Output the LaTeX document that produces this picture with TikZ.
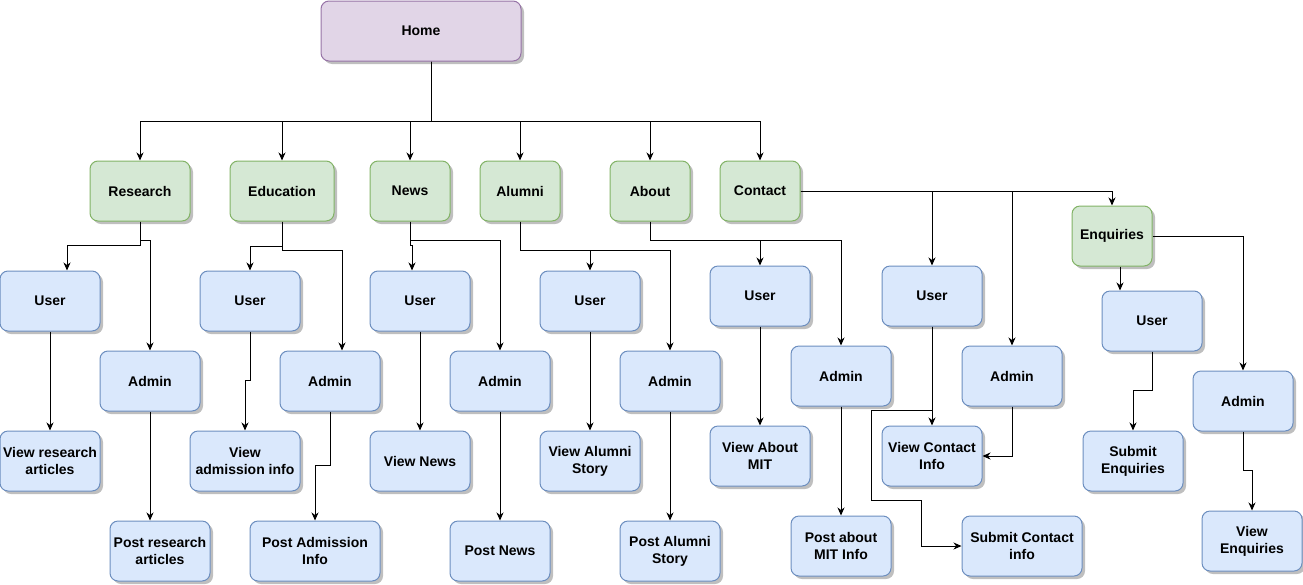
\documentclass[tikz,border=0pt]{standalone}
\usepackage{fontspec}
\setmainfont{Liberation Sans}
\usetikzlibrary{arrows.meta,positioning,shadows}
\definecolor{homefill}{HTML}{E1D5E7}
\definecolor{homedraw}{HTML}{9673A6}
\definecolor{pagefill}{HTML}{D5E8D4}
\definecolor{pagedraw}{HTML}{82B366}
\definecolor{rolefill}{HTML}{DAE8FC}
\definecolor{roledraw}{HTML}{6C8EBF}
\tikzset{
  basebox/.style={rectangle,rounded corners=8pt,line width=1pt,align=center,inner sep=2pt,minimum height=60pt,font=\fontsize{14}{17}\selectfont\bfseries,drop shadow={shadow xshift=3pt,shadow yshift=-3pt,fill=black,opacity=0.25}},
  homebox/.style={basebox,draw=homedraw,fill=homefill,minimum width=200pt},
  pagebox/.style={basebox,draw=pagedraw,fill=pagefill,minimum width=80pt},
  rolebox/.style={basebox,draw=roledraw,fill=rolefill,minimum width=100pt},
  link/.style={-{Stealth[length=8pt,width=7pt,inset=2.5pt]},line width=1pt,draw=black}
}

\begin{document}
\begin{tikzpicture}[x=1pt,y=-1pt]
  \useasboundingbox (0,0) rectangle (1303,584);

  \node[homebox] (home) at (421,31) {Home};

  \node[pagebox, minimum width=100pt] (research) at (140,191) {Research};
  \node[pagebox, minimum width=104pt] (education) at (282,191) {Education};
  \node[pagebox] (news) at (410,191) {News};
  \node[pagebox] (alumni) at (520,191) {Alumni};
  \node[pagebox] (about) at (650,191) {About};
  \node[pagebox] (contact) at (760,191) {Contact};
  \node[pagebox] (enquiries) at (1112,236) {Enquiries};

  \node[rolebox] (ruser) at (50,301) {User};
  \node[rolebox] (radmin) at (150,381) {Admin};
  \node[rolebox] (rview) at (50,461) {View research\\articles};
  \node[rolebox] (rpost) at (160,551) {Post research\\articles};

  \node[rolebox] (euser) at (250,301) {User};
  \node[rolebox] (eadmin) at (330,381) {Admin};
  \node[rolebox, minimum width=110pt] (eview) at (245,461) {View\\admission info};
  \node[rolebox, minimum width=130pt] (epost) at (315,551) {Post Admission\\Info};

  \node[rolebox] (nuser) at (420,301) {User};
  \node[rolebox] (nadmin) at (500,381) {Admin};
  \node[rolebox] (nview) at (420,461) {View News};
  \node[rolebox] (npost) at (500,551) {Post News};

  \node[rolebox] (auser) at (590,301) {User};
  \node[rolebox] (aadmin) at (670,381) {Admin};
  \node[rolebox] (aview) at (590,461) {View Alumni\\Story};
  \node[rolebox] (apost) at (670,551) {Post Alumni\\Story};

  \node[rolebox] (buser) at (760,296) {User};
  \node[rolebox] (badmin) at (841,376) {Admin};
  \node[rolebox] (bview) at (760,456) {View About\\MIT};
  \node[rolebox] (bpost) at (841,546) {Post about\\MIT Info};

  \node[rolebox] (cuser) at (932,296) {User};
  \node[rolebox] (cadmin) at (1012,376) {Admin};
  \node[rolebox] (cview) at (932,456) {View Contact\\Info};
  \node[rolebox, minimum width=120pt] (csubmit) at (1022,546) {Submit Contact\\info};

  \node[rolebox] (quser) at (1152,321) {User};
  \node[rolebox] (qadmin) at (1243,401) {Admin};
  \node[rolebox] (qsubmit) at (1133,461) {Submit\\Enquiries};
  \node[rolebox] (qview) at (1252,541) {View\\Enquiries};

  \foreach \p in {research,education,news,alumni,about,contact}
    \draw[link] ([xshift=10pt]home.south) -- ++(0,60) -| (\p.north);

  \draw[link] (research.south) -- ++(0,24) -| ([xshift=17pt]ruser.north);
  \draw[link] (research.south) -- ++(0,19) -| (radmin.north);
  \draw[link] (ruser) -- (rview);
  \draw[link] (radmin.south) -- (radmin.south |- rpost.north);

  \draw[link] (education.south) -- ++(0,25) -| (euser.north);
  \draw[link] (education.south) -- ++(0,29) -| ([xshift=12pt]eadmin.north);
  \draw[link] (euser.south) -- ++(0,49) -| (eview.north);
  \draw[link] (eadmin.south) -- ++(0,54) -| (epost.north);

  \draw[link] (news.south) -- ++(0,24) -| ([xshift=-8pt]nuser.north);
  \draw[link] (news.south) -- ++(0,19) -| (nadmin.north);
  \draw[link] (nuser) -- (nview);
  \draw[link] (nadmin) -- (npost);

  \draw[link] (alumni.south) -- ++(0,29) -| (auser.north);
  \draw[link] (alumni.south) -- ++(0,29) -| (aadmin.north);
  \draw[link] (auser) -- (aview);
  \draw[link] (aadmin) -- (apost);

  \draw[link] (about.south) -- ++(0,19) -| (buser.north);
  \draw[link] (about.south) -- ++(0,19) -| (badmin.north);
  \draw[link] (buser) -- (bview);
  \draw[link] (badmin) -- (bpost);

  \draw[link] (contact.east) -| (enquiries.north);
  \draw[link] (contact.east) -| (cuser.north);
  \draw[link] (contact.east) -| (cadmin.north);
  \draw[link] (cuser) -- (cview);
  \draw[link] (cuser.south) -- ++(0,84) -- ++(-61,0) -- ++(0,90) -- ++(50,0) |- (csubmit.west);
  \draw[link] (cadmin.south) |- (cview.east);

  \draw[link] ([xshift=8pt]enquiries.south) -- ([xshift=8pt]enquiries.south |- quser.north);
  \draw[link] (enquiries.east) -| (qadmin.north);
  \draw[link] (quser.south) -- ++(0,39) -| (qsubmit.north);
  \draw[link] (qadmin.south) -- ++(0,39) -| (qview.north);
\end{tikzpicture}
\end{document}
